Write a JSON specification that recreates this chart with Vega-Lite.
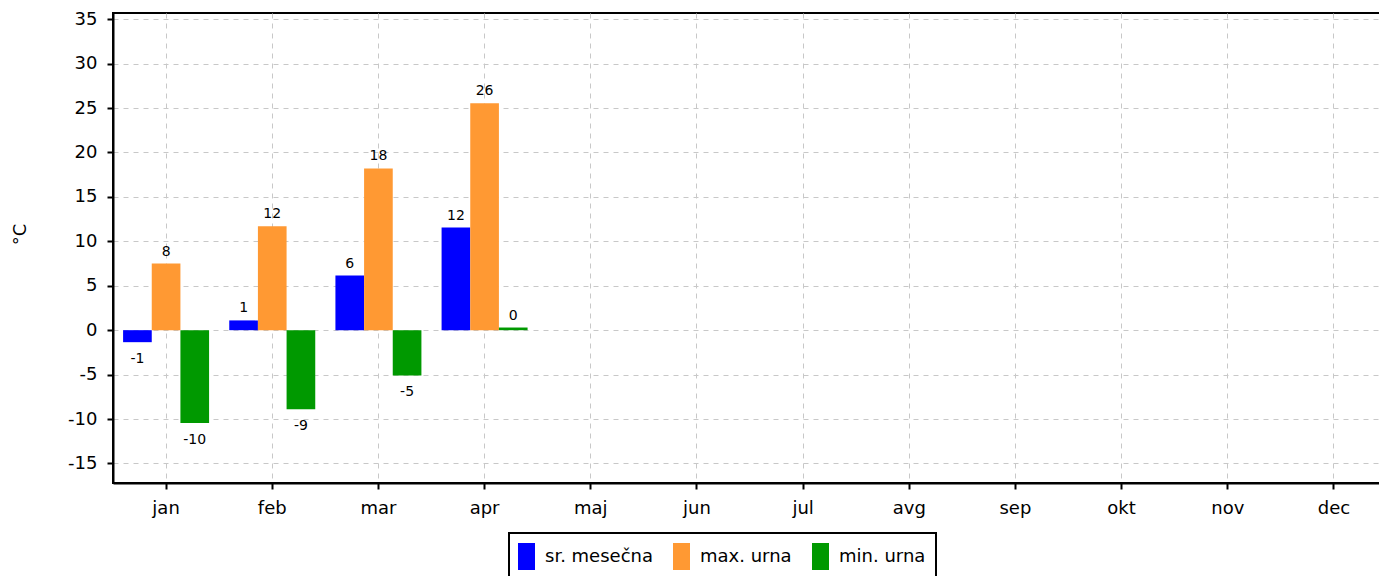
{
  "$schema": "https://vega.github.io/schema/vega-lite/v6.json",
  "width": 1274,
  "height": 470,
  "autosize": {"type": "none"},
  "padding": {"left": 113, "top": 13, "right": 0, "bottom": 93},
  "background": "white",
  "config": {
    "font": "DejaVu Sans",
    "view": {"stroke": "black", "strokeWidth": 2},
    "locale": {
      "number": {
        "decimal": ".",
        "thousands": ",",
        "grouping": [3],
        "currency": ["$", ""],
        "minus": "-"
      }
    }
  },
  "data": {
    "values": [
      {"month": "jan", "series": "sr. mesečna", "value": -1.35},
      {"month": "jan", "series": "max. urna", "value": 7.5},
      {"month": "jan", "series": "min. urna", "value": -10.45},
      {"month": "feb", "series": "sr. mesečna", "value": 1.1},
      {"month": "feb", "series": "max. urna", "value": 11.7},
      {"month": "feb", "series": "min. urna", "value": -8.9},
      {"month": "mar", "series": "sr. mesečna", "value": 6.15},
      {"month": "mar", "series": "max. urna", "value": 18.2},
      {"month": "mar", "series": "min. urna", "value": -5.1},
      {"month": "apr", "series": "sr. mesečna", "value": 11.55},
      {"month": "apr", "series": "max. urna", "value": 25.55},
      {"month": "apr", "series": "min. urna", "value": 0.3}
    ]
  },
  "encoding": {
    "x": {
      "field": "month",
      "type": "nominal",
      "scale": {
        "domain": ["jan", "feb", "mar", "apr", "maj", "jun", "jul", "avg", "sep", "okt", "nov", "dec"],
        "paddingInner": 0.19,
        "paddingOuter": 0.095
      },
      "axis": {
        "title": null,
        "labelAngle": 0,
        "labelFontSize": 18,
        "labelColor": "black",
        "labelPadding": 10,
        "tickColor": "black",
        "tickWidth": 2,
        "tickSize": 6,
        "domainColor": "black",
        "domainWidth": 2,
        "bandPosition": 0.5,
        "grid": true,
        "gridColor": "#c8c8c8",
        "gridDash": [5, 5],
        "gridWidth": 1
      }
    },
    "xOffset": {
      "field": "series",
      "type": "nominal",
      "scale": {
        "domain": ["sr. mesečna", "max. urna", "min. urna"],
        "paddingInner": 0,
        "paddingOuter": 0
      }
    },
    "y": {
      "field": "value",
      "type": "quantitative",
      "scale": {"domain": [-17.2, 35.7], "nice": false, "zero": false},
      "axis": {
        "title": "°C",
        "titleFontSize": 18,
        "titleFontWeight": "normal",
        "titleColor": "black",
        "titleX": -93,
        "titleY": 221,
        "titleBaseline": "middle",
        "values": [-15, -10, -5, 0, 5, 10, 15, 20, 25, 30, 35],
        "labelFontSize": 18,
        "labelColor": "black",
        "labelPadding": 10,
        "tickColor": "black",
        "tickWidth": 2,
        "tickSize": 6,
        "domainColor": "black",
        "domainWidth": 2,
        "grid": true,
        "gridColor": "#c8c8c8",
        "gridDash": [5, 5],
        "gridWidth": 1
      }
    }
  },
  "layer": [
    {
      "mark": {"type": "bar"},
      "encoding": {
        "color": {
          "field": "series",
          "type": "nominal",
          "scale": {
            "domain": ["sr. mesečna", "max. urna", "min. urna"],
            "range": ["#0000ff", "#ff9933", "#009900"]
          },
          "legend": {
            "title": null,
            "orient": "none",
            "legendX": 396,
            "legendY": 520,
            "direction": "horizontal",
            "columns": 3,
            "strokeColor": "black",
            "fillColor": "white",
            "padding": 10,
            "symbolType": "M-0.63,-1H0.63V1H-0.63Z",
            "symbolSize": 729,
            "symbolStrokeWidth": 0,
            "symbolOpacity": 1,
            "symbolOffset": -6,
            "labelOffset": 5,
            "labelFontSize": 18,
            "labelColor": "black",
            "columnPadding": 19,
            "encode": {"legend": {"update": {"strokeWidth": {"value": 2}}}}
          }
        }
      }
    },
    {
      "transform": [{"filter": "datum.value >= 0"}],
      "mark": {"type": "text", "baseline": "alphabetic", "dy": -8, "fontSize": 14, "color": "black"},
      "encoding": {"text": {"field": "value", "type": "quantitative", "format": ".0f"}}
    },
    {
      "transform": [{"filter": "datum.value < 0"}],
      "mark": {"type": "text", "baseline": "alphabetic", "dy": 20.5, "fontSize": 14, "color": "black"},
      "encoding": {"text": {"field": "value", "type": "quantitative", "format": ".0f"}}
    }
  ]
}
